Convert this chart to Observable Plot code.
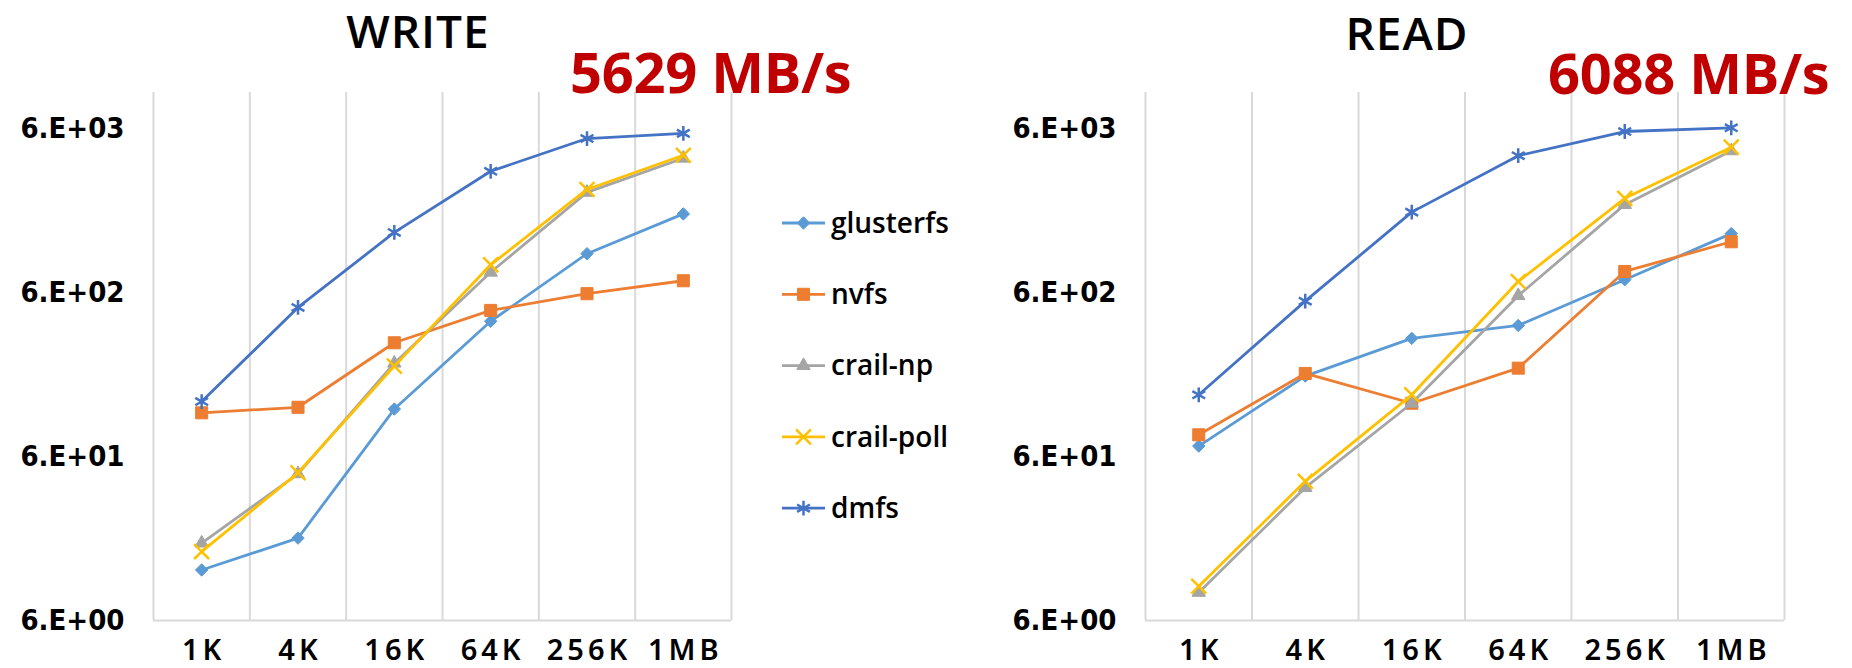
<!DOCTYPE html>
<html>
<head>
<meta charset="utf-8">
<script src="https://cdn.jsdelivr.net/npm/d3@7"></script>
<script src="https://cdn.jsdelivr.net/npm/@observablehq/plot@0.6"></script>
<style>
  html, body { margin: 0; padding: 0; background: #fff; }
  #wrap { position: relative; width: 1852px; height: 668px; overflow: hidden; background: #fff; }
</style>
</head>
<body>
<div id="wrap"></div>
<script>
// ---------------- data ----------------
const sizes = ["1K", "4K", "16K", "64K", "256K", "1MB"];
const seriesNames = ["glusterfs", "nvfs", "crail-np", "crail-poll", "dmfs"];
const seriesColors = ["#5B9BD5", "#ED7D31", "#A5A5A5", "#FFC000", "#4472C4"];
const seriesSymbols = ["diamond2", "square", "triangle", "times", "asterisk"];

const writeGlusterfs = [12.2, 19.1, 117, 402, 1038, 1816];
const writeNvfs      = [111, 120, 297, 468, 592, 710];
const writeCrailNp   = [17.8, 47.1, 223, 800, 2457, 3970];
const writeCrailPoll = [15.8, 47.8, 214, 888, 2561, 4140];
const writeDmfs      = [130, 488, 1400, 3306, 5237, 5629];

const readGlusterfs = [69.6, 186, 316, 379, 721, 1377];
const readNvfs      = [81.5, 193, 127, 208, 809, 1228];
const readCrailNp   = [8.9, 38.8, 127, 576, 2068, 4404];
const readCrailPoll = [9.7, 42.4, 143, 702, 2260, 4640];
const readDmfs      = [143, 533, 1862, 4116, 5780, 6088];

const panelTitles = ["WRITE", "READ"];
const peakLabels = ["5629 MB/s", "6088 MB/s"];
const yTickValues = [6, 60, 600, 6000];
const yTickLabels = ["6.E+00", "6.E+01", "6.E+02", "6.E+03"];
const yDomain = [6, 10000];

// ---------------- styling ----------------
const filled = {"diamond2": true, "square": true, "triangle": true, "times": false, "asterisk": false};
const symbolR = {"diamond2": 5.6, "square": 6.8, "triangle": 5.0, "times": 6.8, "asterisk": 7.0};
const yFont = "'DejaVu Sans Condensed', 'DejaVu Sans', sans-serif";
const xFont = "'Noto Sans', 'Open Sans', sans-serif";
const xLetterSpacing = 4;

function panel(seriesArrays, o) {
  const grid = d3.range(sizes.length + 1).map(i => i - 0.5);
  const marks = [
    Plot.ruleX(grid, {stroke: "#d9d9d9", strokeWidth: 2}),
    Plot.ruleY([yDomain[0]], {stroke: "#d9d9d9", strokeWidth: 2}),
    Plot.text(d3.range(sizes.length), {
      x: d => d, y: yDomain[0], text: d => sizes[d],
      dx: xLetterSpacing / 2, dy: 30, fontSize: 29, fontWeight: 600, fontFamily: xFont, fill: "#000",
      textAnchor: "middle", lineAnchor: "middle"
    }),
    Plot.text(yTickValues, {
      x: -0.5, y: d => d, text: (d, i) => yTickLabels[i],
      dx: -29, fontSize: 29, fontWeight: 700, fontFamily: yFont, fill: "#000",
      textAnchor: "end", lineAnchor: "middle"
    })
  ];
  seriesNames.forEach((name, s) => {
    const rows = seriesArrays[s].map((v, i) => ({i, v}));
    const sym = seriesSymbols[s];
    marks.push(Plot.line(rows, {x: "i", y: "v", stroke: seriesColors[s], strokeWidth: 2.8}));
    marks.push(Plot.dot(rows, {
      x: "i", y: "v", symbol: sym, r: symbolR[sym],
      fill: filled[sym] ? seriesColors[s] : "none",
      stroke: seriesColors[s], strokeWidth: filled[sym] ? 1 : 2.5
    }));
  });
  const svg = Plot.plot({
    width: o.width, height: 668,
    marginLeft: o.ml, marginRight: o.mr, marginTop: 92, marginBottom: 48,
    style: {background: "transparent", overflow: "visible"},
    x: {type: "linear", domain: [-0.5, sizes.length - 0.5], axis: null},
    y: {type: "log", domain: yDomain, axis: null},
    marks
  });
  d3.select(svg).selectAll("text")
    .filter(function () { return sizes.includes(this.textContent); })
    .attr("letter-spacing", xLetterSpacing);
  svg.style.position = "absolute";
  svg.style.left = o.left + "px";
  svg.style.top = "0px";
  return svg;
}

const wrap = document.getElementById("wrap");
wrap.appendChild(panel([writeGlusterfs, writeNvfs, writeCrailNp, writeCrailPoll, writeDmfs],
  {left: 0, width: 760, ml: 153, mr: 29}));
wrap.appendChild(panel([readGlusterfs, readNvfs, readCrailNp, readCrailPoll, readDmfs],
  {left: 990, width: 862, ml: 155, mr: 68}));

// ---------------- titles, peak labels, legend ----------------
const ann = d3.select(wrap).append("svg")
  .attr("width", 1852).attr("height", 668)
  .style("position", "absolute").style("left", "0px").style("top", "0px")
  .style("pointer-events", "none");

const titlePos = [[418, 48], [1407, 50]];
panelTitles.forEach((t, k) => {
  ann.append("text").attr("x", titlePos[k][0]).attr("y", titlePos[k][1])
    .attr("text-anchor", "middle").attr("font-family", "'Open Sans', sans-serif")
    .attr("font-weight", 600).attr("font-size", 46).attr("letter-spacing", 1)
    .attr("fill", "#000").text(t);
});
const peakPos = [[570, 93], [1548, 94]];
peakLabels.forEach((t, k) => {
  ann.append("text").attr("x", peakPos[k][0]).attr("y", peakPos[k][1])
    .attr("font-family", "'Open Sans', sans-serif").attr("font-weight", 700)
    .attr("font-size", 56).attr("letter-spacing", -0.3)
    .attr("fill", "#C00000").text(t);
});

const symMap = {"diamond2": d3.symbolDiamond2, "square": d3.symbolSquare, "triangle": d3.symbolTriangle,
                "times": d3.symbolTimes, "asterisk": d3.symbolAsterisk};
seriesNames.forEach((name, s) => {
  const y = 223 + s * 71.3;
  const g = ann.append("g");
  g.append("line").attr("x1", 782).attr("x2", 825).attr("y1", y).attr("y2", y)
    .attr("stroke", seriesColors[s]).attr("stroke-width", 2.8);
  const sym = seriesSymbols[s];
  const r = symbolR[sym];
  g.append("path").attr("transform", `translate(803.5,${y})`)
    .attr("d", d3.symbol(symMap[sym], Math.PI * r * r)())
    .attr("fill", filled[sym] ? seriesColors[s] : "none")
    .attr("stroke", seriesColors[s]).attr("stroke-width", filled[sym] ? 1 : 2.5);
  g.append("text").attr("x", 831).attr("y", y).attr("dy", "0.35em")
    .attr("font-family", "'Open Sans', sans-serif").attr("font-weight", 600)
    .attr("font-size", 28).attr("fill", "#000").text(name);
});
</script>
</body>
</html>
